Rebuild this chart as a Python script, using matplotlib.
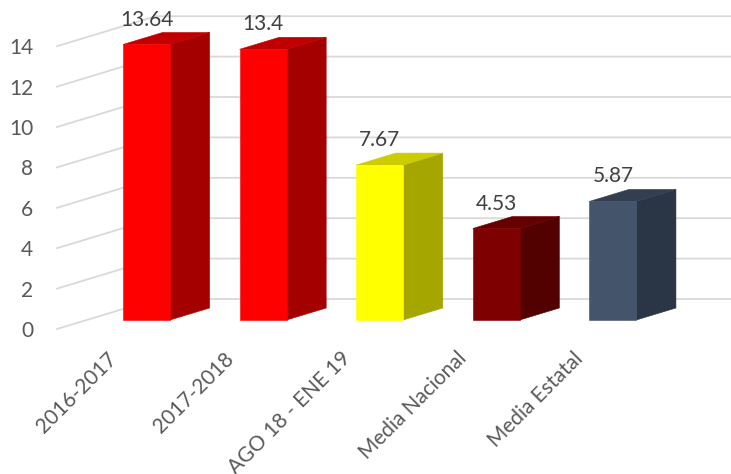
import matplotlib
matplotlib.use("Agg")
import matplotlib.pyplot as plt
from matplotlib.patches import Polygon
from matplotlib.transforms import ScaledTranslation

categories = ["2016-2017", "2017-2018", "AGO 18 - ENE 19", "Media Nacional", "Media Estatal"]
values = [13.64, 13.4, 7.67, 4.53, 5.87]
value_labels = ["13.64", "13.4", "7.67", "4.53", "5.87"]
y_ticks = [0, 2, 4, 6, 8, 10, 12, 14]

front_colors = ["#FF0000", "#FF0000", "#FFFF00", "#7F0000", "#44546A"]
top_colors = ["#C00000", "#C00000", "#CCCC00", "#660000", "#333F50"]
side_colors = ["#A50000", "#A50000", "#A6A600", "#530000", "#2A3546"]

plt.rcParams['font.family'] = ['Lato', 'DejaVu Sans']

W, H, DPI = 731, 474, 100
fig = plt.figure(figsize=(W / DPI, H / DPI), dpi=DPI)
ax = fig.add_axes([57 / W, (H - 329) / H, 1 - 57 / W, 329 / H])
x_left, x_right = -0.513, 5.268
ax.set_xlim(x_left, x_right)
ax.set_ylim(0, 16.287)
for s in ax.spines.values():
    s.set_visible(False)

# depth vector (full depth of the box) in data units
DX, DY = 0.849, 1.485
d_front, d_back = 0.3, 0.7
bar_w = 0.403

def P(x, y, d):
    return (x + d * DX, y + d * DY)

grid_c = "#D9D9D9"
for g in y_ticks:
    a = P(x_left, g, 0)
    b = P(x_left, g, 1)
    c = P(x_right + 1, g, 1)
    ax.plot([a[0], b[0], c[0]], [a[1], b[1], c[1]], color=grid_c, lw=1.3,
            clip_on=False, zorder=1, solid_joinstyle='miter')

for i, v in enumerate(values):
    xl, xr = i - bar_w / 2, i + bar_w / 2
    front = [P(xl, 0, d_front), P(xr, 0, d_front), P(xr, v, d_front), P(xl, v, d_front)]
    side = [P(xr, 0, d_front), P(xr, 0, d_back), P(xr, v, d_back), P(xr, v, d_front)]
    top = [P(xl, v, d_front), P(xr, v, d_front), P(xr, v, d_back), P(xl, v, d_back)]
    for poly, col in ((side, side_colors[i]), (top, top_colors[i]), (front, front_colors[i])):
        ax.add_patch(Polygon(poly, closed=True, facecolor=col, edgecolor=col,
                             lw=0.4, zorder=3, clip_on=False))
    ly = P(i, v, d_back)[1]
    lx = P(i, v, d_front)[0]
    ax.annotate(value_labels[i], (lx, ly), xytext=(0, 5), textcoords="offset points",
                ha="center", va="baseline", fontsize=15, color="#404040",
                annotation_clip=False, zorder=5)

ax.set_yticks(y_ticks)
ax.set_yticklabels([str(t) for t in y_ticks])
ax.tick_params(axis="y", length=0, pad=17, labelsize=15, labelcolor="#595959")

ax.set_xticks(range(len(categories)))
ax.set_xticklabels(categories)
ax.tick_params(axis="x", length=0, pad=19, labelsize=15, labelcolor="#595959")
off = ScaledTranslation(-3 / DPI, 0, fig.dpi_scale_trans)
for lab in ax.get_xticklabels():
    lab.set_rotation(45)
    lab.set_ha("right")
    lab.set_va("center")
    lab.set_rotation_mode("anchor")
    lab.set_transform(lab.get_transform() + off)

fig.savefig("out.png", dpi=DPI)
